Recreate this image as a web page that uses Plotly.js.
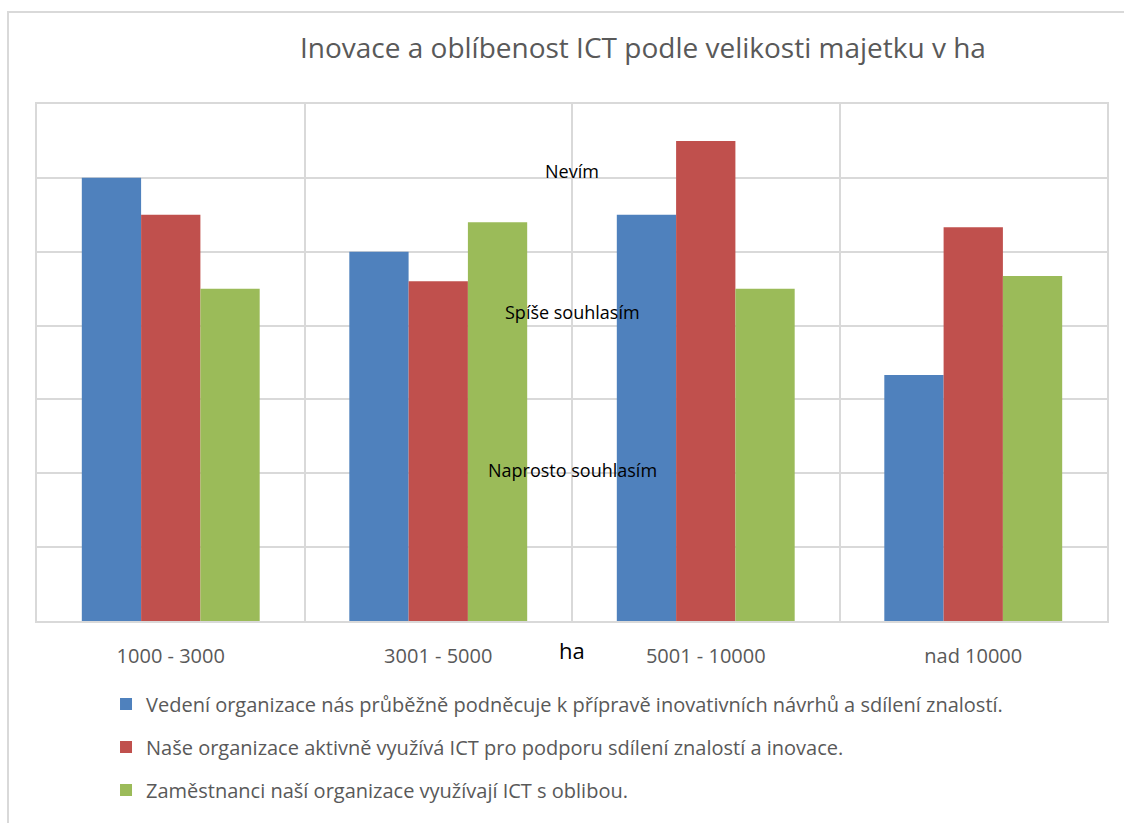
<!DOCTYPE html>
<html>
<head>
<meta charset="utf-8">
<script src="https://cdn.plot.ly/plotly-3.0.1.min.js"></script>
<style>html,body{margin:0;padding:0;background:#fff;}#chart{width:1124px;height:823px;}</style>
</head>
<body>
<div id="chart"></div>
<script>
const categories = ["1000 - 3000", "3001 - 5000", "5001 - 10000", "nad 10000"];
const seriesNames = [
  "Vedení organizace nás průběžně podněcuje k přípravě inovativních návrhů a sdílení znalostí.",
  "Naše organizace aktivně využívá ICT pro podporu sdílení znalostí a inovace.",
  "Zaměstnanci naší organizace využívají ICT s oblibou."
];
const vedeni = [6.0, 5.0, 5.5, 3.33];
const nase = [5.5, 4.6, 6.5, 5.33];
const zamestnanci = [4.5, 5.4, 4.5, 4.67];
const levelLabels = ["Nevím", "Spíše souhlasím", "Naprosto souhlasím"];
const levelValues = [6.09, 4.18, 2.05];
const colors = ["#4f81bd", "#c0504d", "#9bbb59"];
const FONT = "Open Sans, sans-serif";

const values = [vedeni, nase, zamestnanci];
const traces = values.map((v, i) => ({
  type: "bar",
  x: categories,
  y: v,
  name: seriesNames[i],
  legendgroup: "g" + i,
  marker: {color: colors[i], line: {width: 0}},
  hoverinfo: "x+y"
}));

const annotations = levelLabels.map((t, i) => ({
  text: t, xref: "paper", yref: "y", x: 0.5, y: levelValues[i],
  showarrow: false, xanchor: "center", yanchor: "middle",
  font: {family: FONT, size: 18, color: "#000000"}
}));
annotations.push({
  text: "ha", xref: "paper", yref: "paper", x: 0.5, y: -0.056,
  showarrow: false, xanchor: "center", yanchor: "middle",
  font: {family: FONT, size: 22, color: "#000000"}
});

const layout = {
  width: 1124, height: 823,
  margin: {l: 37, r: 17, t: 104, b: 202},
  paper_bgcolor: "#ffffff", plot_bgcolor: "#ffffff",
  title: {text: "Inovace a oblíbenost ICT podle velikosti majetku v ha",
          xref: "container", yref: "container", x: 0.572, y: 0.942,
          xanchor: "center", yanchor: "middle",
          font: {family: FONT, size: 28, color: "#595959"}},
  barmode: "group", bargap: 0.335, bargroupgap: 0,
  xaxis: {type: "category", tickson: "boundaries", showgrid: true,
          gridcolor: "#d9d9d9", gridwidth: 2, ticks: "",
          showline: true, linecolor: "#d9d9d9", linewidth: 2, mirror: true,
          ticklabelstandoff: 16,
          tickfont: {family: FONT, size: 20, color: "#595959"}},
  yaxis: {range: [0, 7], dtick: 1, showticklabels: false, showgrid: true,
          gridcolor: "#d9d9d9", gridwidth: 2, zeroline: false,
          showline: true, linecolor: "#d9d9d9", linewidth: 2, mirror: true, ticks: ""},
  showlegend: true,
  legend: {orientation: "v", x: 0.0645, xanchor: "left", y: -0.123, yanchor: "top",
           tracegroupgap: 14, itemwidth: 30,
           font: {family: FONT, size: 20, color: "#595959"}},
  annotations: annotations,
  shapes: [{type: "rect", xref: "paper", yref: "paper",
            x0: -0.0271, x1: 1.2, y0: -0.6, y1: 1.178,
            line: {color: "#d9d9d9", width: 2}, layer: "below"}]
};

Plotly.newPlot("chart", traces, layout, {displayModeBar: false, staticPlot: true});
</script>
</body>
</html>
